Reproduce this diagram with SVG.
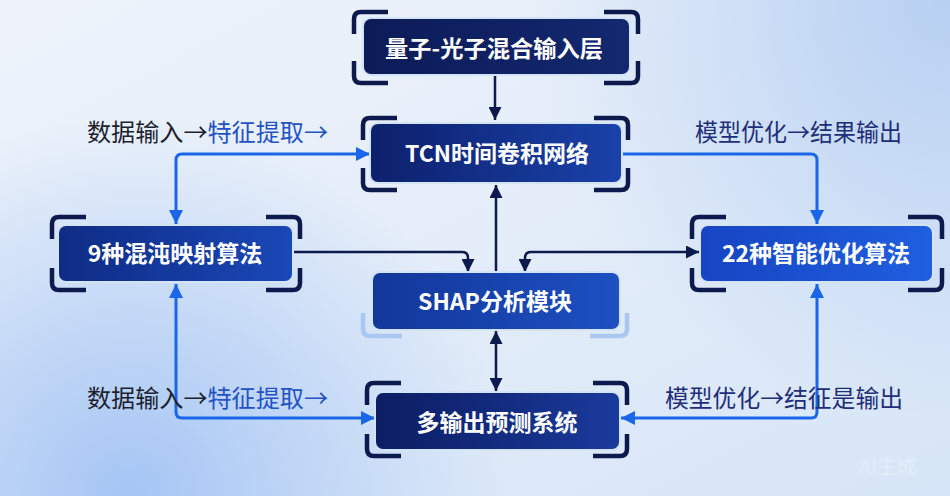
<svg xmlns="http://www.w3.org/2000/svg" width="950" height="496" viewBox="0 0 950 496">
<defs>
  <linearGradient id="bgBase" x1="0" y1="0" x2="1" y2="1">
    <stop offset="0" stop-color="#eef3fb"/>
    <stop offset="0.5" stop-color="#e4edf9"/>
    <stop offset="1" stop-color="#d6e5f7"/>
  </linearGradient>
  <radialGradient id="bgTR" cx="950" cy="0" r="420" gradientUnits="userSpaceOnUse">
    <stop offset="0" stop-color="#b7d0f2" stop-opacity="1"/>
    <stop offset="1" stop-color="#b7d0f2" stop-opacity="0"/>
  </radialGradient>
  <radialGradient id="bgBL" cx="130" cy="496" r="380" gradientUnits="userSpaceOnUse">
    <stop offset="0" stop-color="#a5c5f4" stop-opacity="1"/>
    <stop offset="1" stop-color="#a5c5f4" stop-opacity="0"/>
  </radialGradient>
  <linearGradient id="gNavy" x1="0" y1="0" x2="1" y2="0">
    <stop offset="0" stop-color="#0c1b58"/>
    <stop offset="1" stop-color="#13286f"/>
  </linearGradient>
  <linearGradient id="gTcn" x1="0" y1="0" x2="1" y2="0">
    <stop offset="0" stop-color="#0d206c"/>
    <stop offset="1" stop-color="#1a42aa"/>
  </linearGradient>
  <linearGradient id="gChaos" x1="0" y1="0" x2="1" y2="0">
    <stop offset="0" stop-color="#0f2b85"/>
    <stop offset="1" stop-color="#1a48b8"/>
  </linearGradient>
  <linearGradient id="gShap" x1="0" y1="0" x2="1" y2="0">
    <stop offset="0" stop-color="#12379a"/>
    <stop offset="1" stop-color="#1d50c2"/>
  </linearGradient>
  <linearGradient id="gOpt" x1="0" y1="0" x2="1" y2="0">
    <stop offset="0" stop-color="#1744c2"/>
    <stop offset="1" stop-color="#1f5fe0"/>
  </linearGradient>
  <linearGradient id="gOut" x1="0" y1="0" x2="1" y2="0">
    <stop offset="0" stop-color="#0c1d62"/>
    <stop offset="1" stop-color="#1a3a9c"/>
  </linearGradient>
  <marker id="arrNavy" viewBox="0 0 13 13" refX="13" refY="6.5" markerWidth="13" markerHeight="13" markerUnits="userSpaceOnUse" orient="auto-start-reverse">
    <path d="M0,0 L13,6.5 L0,13 z" fill="#0d1a4d"/>
  </marker>
  <marker id="arrBlue" viewBox="0 0 14 14" refX="14" refY="7" markerWidth="14" markerHeight="14" markerUnits="userSpaceOnUse" orient="auto-start-reverse">
    <path d="M0,0 L14,7 L0,14 z" fill="#1a66e8"/>
  </marker>
  <style>
    .box { stroke: #d3e3f8; stroke-width: 2; }
    .brk { fill: none; stroke: #0d1a4d; stroke-width: 4.5; stroke-linecap: butt; }
    .brkL { fill: none; stroke: #a9c7f0; stroke-width: 4.5; }
    .ntxt { font-family: "Noto Sans CJK SC", "Noto Sans", sans-serif; font-weight: bold; font-size: 23px; fill: #ffffff; text-anchor: middle; }
    .lbl { font-family: "Noto Sans CJK SC", "Noto Sans", sans-serif; font-size: 24px; }
    .dark { fill: #1c1f2e; }
    .blue { fill: #2452c4; }
    .navyT { fill: #1f2e78; }
    .cNavy { fill: none; stroke: #0d1a4d; stroke-width: 2.5; }
    .cBlue { fill: none; stroke: #1a66e8; stroke-width: 3; }
  </style>
</defs>

<rect x="0" y="0" width="950" height="496" fill="url(#bgBase)"/>
<rect x="0" y="0" width="950" height="496" fill="url(#bgTR)"/>
<rect x="0" y="0" width="950" height="496" fill="url(#bgBL)"/>

<g id="connectors">
  <path class="cNavy" d="M495,76 V120" marker-end="url(#arrNavy)"/>
  <path class="cNavy" d="M496,272 V185" marker-end="url(#arrNavy)"/>
  <path class="cNavy" d="M293,252 H462 Q468,252 468,258 V272" marker-end="url(#arrNavy)"/>
  <path class="cNavy" d="M525,272 V258 Q525,252 531,252 H699" marker-start="url(#arrNavy)" marker-end="url(#arrNavy)"/>
  <path class="cNavy" d="M496,331 V391" marker-start="url(#arrNavy)" marker-end="url(#arrNavy)"/>
  <path class="cBlue" d="M370,154 H182 Q176,154 176,160 V224" marker-start="url(#arrBlue)" marker-end="url(#arrBlue)"/>
  <path class="cBlue" d="M176,284 V412 Q176,418 182,418 H375" marker-start="url(#arrBlue)" marker-end="url(#arrBlue)"/>
  <path class="cBlue" d="M622,154 H811 Q817,154 817,160 V224" marker-end="url(#arrBlue)"/>
  <path class="cBlue" d="M817,284 V412 Q817,418 811,418 H621" marker-start="url(#arrBlue)" marker-end="url(#arrBlue)"/>
</g>

<g id="labels">
  <text class="lbl" x="87" y="141" textLength="241" lengthAdjust="spacingAndGlyphs"><tspan class="dark">数据输入→</tspan><tspan class="blue">特征提取→</tspan></text>
  <text class="lbl navyT" x="695" y="141" textLength="207" lengthAdjust="spacingAndGlyphs">模型优化→结果输出</text>
  <text class="lbl" x="87" y="407" textLength="241" lengthAdjust="spacingAndGlyphs"><tspan class="dark">数据输入→</tspan><tspan class="blue">特征提取→</tspan></text>
  <text class="lbl navyT" x="665" y="407" textLength="238" lengthAdjust="spacingAndGlyphs">模型优化→结征是输出</text>
</g>

<g id="node-input">
  <path class="brk" d="M354,34 V19 Q354,12 361,12 H388 M604,12 H631 Q638,12 638,19 V34 M354,61 V76 Q354,83 361,83 H388 M604,83 H631 Q638,83 638,76 V61"/>
  <rect class="box" x="363" y="18" width="267" height="57" rx="8" fill="url(#gNavy)"/>
  <text class="ntxt" x="494" y="57" textLength="218" lengthAdjust="spacingAndGlyphs">量子-光子混合输入层</text>
</g>

<g id="node-tcn">
  <path class="brk" d="M363,140 V125 Q363,118 370,118 H397 M594,118 H621 Q628,118 628,125 V140 M363,168 V183 Q363,190 370,190 H397 M594,190 H621 Q628,190 628,183 V168"/>
  <rect class="box" x="370" y="123" width="252" height="60" rx="8" fill="url(#gTcn)"/>
  <text class="ntxt" x="497" y="162">TCN时间卷积网络</text>
</g>

<g id="node-chaos">
  <path class="brk" d="M52,239 V224 Q52,217 59,217 H86 M266,217 H293 Q300,217 300,224 V239 M52,268 V283 Q52,290 59,290 H86 M266,290 H293 Q300,290 300,283 V268"/>
  <rect class="box" x="58" y="225" width="235" height="57" rx="8" fill="url(#gChaos)"/>
  <text class="ntxt" x="175" y="262">9种混沌映射算法</text>
</g>

<g id="node-opt">
  <path class="brk" d="M692,239 V224 Q692,217 699,217 H726 M908,217 H935 Q942,217 942,224 V239 M692,268 V283 Q692,290 699,290 H726 M908,290 H935 Q942,290 942,283 V268"/>
  <rect class="box" x="700" y="225" width="233" height="57" rx="8" fill="url(#gOpt)"/>
  <text class="ntxt" x="816" y="262">22种智能优化算法</text>
</g>

<g id="node-shap">
  <path class="brkL" d="M363,313 V329 Q363,336 370,336 H402 M590,336 H620 Q627,336 627,329 V313"/>
  <rect class="box" x="372" y="272" width="248" height="58" rx="8" fill="url(#gShap)"/>
  <text class="ntxt" x="495" y="310">SHAP分析模块</text>
</g>

<g id="node-output">
  <path class="brk" d="M367,405 V390 Q367,383 374,383 H401 M593,383 H620 Q627,383 627,390 V405 M367,434 V449 Q367,456 374,456 H401 M593,456 H620 Q627,456 627,449 V434"/>
  <rect class="box" x="375" y="392" width="245" height="58" rx="8" fill="url(#gOut)"/>
  <text class="ntxt" x="497" y="431">多输出预测系统</text>
</g>

<text x="888" y="474" font-family="Noto Sans CJK SC, Noto Sans, sans-serif" font-size="20" fill="#ffffff" fill-opacity="0.3" text-anchor="middle">AI生成</text>
</svg>
